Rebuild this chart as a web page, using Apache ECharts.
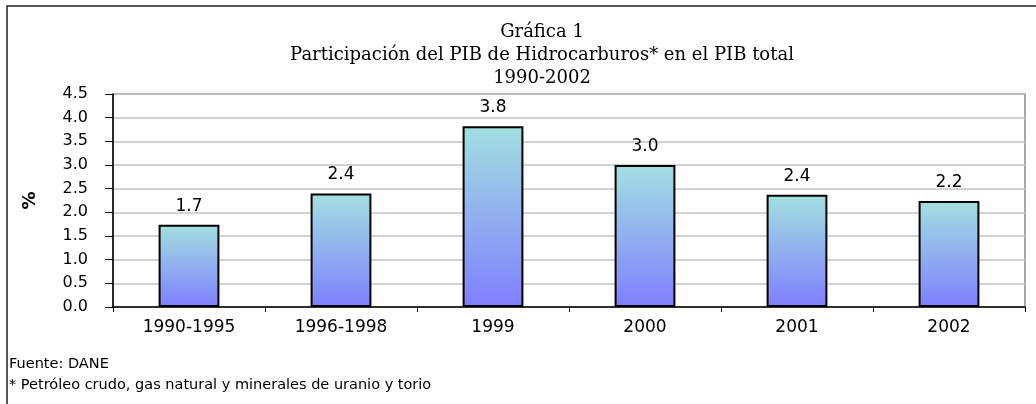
<!DOCTYPE html>
<html>
<head>
<meta charset="utf-8">
<script src="https://cdn.jsdelivr.net/npm/echarts@6/dist/echarts.min.js"></script>
<style>
html,body{margin:0;padding:0;background:#fff;}
#chart{width:1036px;height:404px;}
</style>
</head>
<body>
<div id="chart"></div>
<script>
const categories = ['1990-1995', '1996-1998', '1999', '2000', '2001', '2002'];
const values = [1.74, 2.40, 3.82, 3.00, 2.37, 2.24];
const titleLines = ['Gráfica 1', 'Participación del PIB de Hidrocarburos* en el PIB total', '1990-2002'];
const footnotes = ['Fuente: DANE', '* Petróleo crudo, gas natural y minerales de uranio y torio'];
const yAxisName = '%';

const chart = echarts.init(document.getElementById('chart'), null, {renderer: 'canvas'});
const sans = 'DejaVu Sans';

const graphics = [
  {type: 'rect', shape: {x: 7, y: 6, width: 1100, height: 500}, style: {fill: 'none', stroke: '#222', lineWidth: 1.5}, silent: true, z: 0}
];
titleLines.forEach((t, i) => {
  graphics.push({type: 'text', x: 542, y: 32 + i * 23,
    style: {text: t, fontFamily: 'DejaVu Serif', fontSize: 18, fill: '#000', align: 'center', verticalAlign: 'middle'}});
});
footnotes.forEach((t, i) => {
  graphics.push({type: 'text', x: 9, y: 364 + i * 21,
    style: {text: t, fontFamily: 'DejaVu Sans', fontSize: 14.5, fill: '#000', align: 'left', verticalAlign: 'middle'}});
});

chart.setOption({
  animation: false,
  backgroundColor: '#fff',
  grid: {left: 113, right: 11, top: 94, bottom: 97, show: true, borderColor: '#8c8c8c', borderWidth: 1.5, containLabel: false},
  graphic: graphics,
  xAxis: {
    type: 'category',
    data: categories,
    axisLine: {lineStyle: {color: '#000', width: 1.5}},
    axisTick: {show: true, alignWithLabel: false, length: 5, lineStyle: {color: '#000'}},
    axisLabel: {color: '#000', fontFamily: sans, fontSize: 17, margin: 12}
  },
  yAxis: {
    type: 'value',
    min: 0, max: 4.5, interval: 0.5,
    name: yAxisName,
    nameLocation: 'middle',
    nameGap: 74,
    nameRotate: 90,
    nameTextStyle: {fontFamily: sans, fontSize: 18, fontWeight: 'bold', color: '#000'},
    axisLine: {show: true, lineStyle: {color: '#000', width: 1.5}},
    axisTick: {show: true, length: 8, lineStyle: {color: '#000'}},
    axisLabel: {color: '#000', fontFamily: sans, fontSize: 16, margin: 25, formatter: v => v.toFixed(1)},
    splitLine: {show: true, lineStyle: {color: '#c4c4c4', width: 1.5}}
  },
  series: [{
    type: 'bar',
    data: values,
    barWidth: '40%',
    itemStyle: {
      color: new echarts.graphic.LinearGradient(0, 0, 0, 1, [
        {offset: 0, color: '#a2e0e0'},
        {offset: 1, color: '#7f7fff'}
      ]),
      borderColor: '#000',
      borderWidth: 2
    },
    label: {
      show: true, position: 'top', distance: 10,
      color: '#000', fontFamily: sans, fontSize: 17,
      formatter: p => p.value.toFixed(1)
    }
  }]
});
</script>
</body>
</html>
